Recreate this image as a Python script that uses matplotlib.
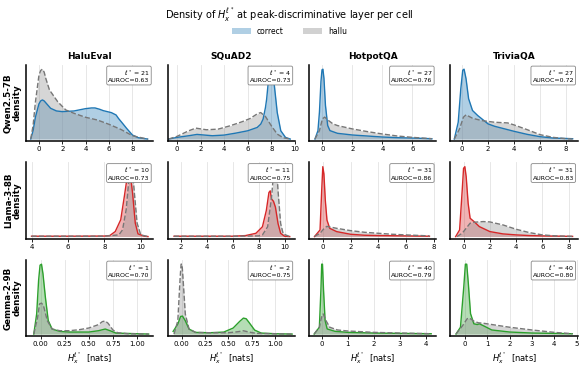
import matplotlib
matplotlib.use("Agg")
import matplotlib.pyplot as plt
from matplotlib.patches import Patch

# rows / columns
models = ["Qwen2.5-7B", "Llama-3-8B", "Gemma-2-9B"]
datasets = ["HaluEval", "SQuAD2", "HotpotQA", "TriviaQA"]
model_colors = ["#1f77b4", "#d62728", "#2ca02c"]

# peak layer and AUROC per cell (row = model)
best_layer = [[21, 4, 27, 27], [10, 11, 31, 31], [1, 2, 40, 40]]
auroc = [[0.63, 0.73, 0.76, 0.72], [0.73, 0.75, 0.86, 0.83], [0.70, 0.75, 0.79, 0.80]]

# x ticks / limits per cell
xticks = [
    [[0, 2, 4, 6, 8], [0, 2, 4, 6, 8, 10], [0, 2, 4, 6], [0, 2, 4, 6, 8]],
    [[4, 6, 8, 10], [2, 4, 6, 8, 10], [0, 2, 4, 6, 8], [0, 2, 4, 6, 8]],
    [[0, 0.25, 0.5, 0.75, 1.0], [0, 0.25, 0.5, 0.75, 1.0], [0, 1, 2, 3, 4], [0, 1, 2, 3, 4, 5]],
]
xlims = [
    [(-1.1, 9.8), (-0.8, 10.0), (-0.9, 7.6), (-0.9, 8.9)],
    [(3.7, 10.7), (1.0, 10.8), (-1.0, 8.2), (-1.0, 8.7)],
    [(-0.15, 1.17), (-0.15, 1.21), (-0.5, 4.4), (-0.65, 5.05)],
]

# density curves (x, density in arbitrary units)
qwen_correct = {
    "HaluEval": ([-0.7, -0.5, -0.3, 0, 0.15, 0.3, 0.45, 0.6, 1, 1.5, 2, 3, 4, 4.5, 4.8, 5.2, 5.5, 6.2, 6.6, 6.8, 7.2, 7.5, 8, 8.5, 9.3],
                 [0, 25, 65, 105, 114, 117, 114, 108, 92, 84, 82, 84, 91, 93, 93, 89, 85, 79, 72, 62, 45, 32, 12, 4, 0]),
    "SQuAD2": ([-0.7, 0, 1, 1.7, 3, 4, 5, 6, 6.8, 7.1, 7.3, 7.5, 7.6, 7.75, 7.85, 7.95, 8.05, 8.2, 8.35, 8.5, 8.8, 9.2, 9.6],
               [0, 5, 10, 14, 10, 12, 18, 25, 35, 45, 60, 95, 120, 175, 200, 211, 208, 180, 130, 80, 25, 5, 0]),
    "HotpotQA": ([-0.5, -0.3, -0.2, -0.1, -0.03, 0.03, 0.1, 0.2, 0.35, 0.5, 1, 2, 3, 4, 5, 6, 7.3],
                 [0, 25, 80, 170, 205, 207, 180, 100, 40, 25, 17, 12, 9, 6, 4, 3, 1]),
    "TriviaQA": ([-0.6, -0.3, -0.1, 0.05, 0.15, 0.3, 0.5, 0.8, 1.2, 2, 2.5, 3, 4, 5, 6, 7, 8.5],
                 [0, 50, 150, 205, 208, 180, 120, 85, 70, 45, 38, 33, 23, 14, 7, 3, 1]),
}
qwen_hallu = {
    "HaluEval": ([-0.7, -0.5, -0.3, 0, 0.15, 0.3, 0.45, 0.6, 0.9, 1.6, 2.3, 3, 4, 5, 6, 7, 8, 9, 9.3],
                 [0, 40, 110, 190, 205, 209, 200, 180, 147, 112, 87, 77, 65, 57, 44, 29, 10, 2, 0]),
    "SQuAD2": ([-0.7, 0, 1, 1.6, 2.5, 3.5, 4.5, 5.5, 6.2, 6.8, 7.1, 7.5, 8, 8.5, 9, 9.6],
               [0, 8, 25, 33, 28, 30, 40, 52, 62, 76, 80, 68, 40, 15, 4, 0]),
    "HotpotQA": ([-0.5, -0.2, 0, 0.15, 0.4, 0.7, 1, 2, 3, 4, 5, 6, 7.3],
                 [0, 25, 60, 65, 55, 45, 40, 30, 22, 15, 9, 5, 1]),
    "TriviaQA": ([-0.6, -0.2, 0.1, 0.3, 0.8, 1.5, 2.5, 3.5, 4, 5, 6, 7, 8, 8.5],
                 [0, 30, 65, 72, 62, 55, 50, 48, 42, 28, 13, 5, 1, 0]),
}
llama_correct = {
    "HaluEval": ([4.0, 6, 8, 8.3, 8.6, 8.9, 9.1, 9.25, 9.35, 9.45, 9.55, 9.7, 9.85, 10.2, 10.4],
                 [1, 1, 1.5, 3, 15, 50, 120, 175, 185, 175, 130, 40, 8, 1, 0]),
    "SQuAD2": ([1.5, 4, 6, 7, 7.8, 8.3, 8.6, 8.8, 8.9, 9.0, 9.15, 9.3, 9.5, 9.7, 10, 10.4],
               [1, 1, 1, 3, 10, 30, 80, 135, 140, 115, 108, 90, 40, 10, 1, 0]),
    "HotpotQA": ([-0.6, -0.2, -0.08, 0.0, 0.08, 0.18, 0.3, 0.5, 1, 2, 3, 4, 6, 7.7],
                 [0, 20, 140, 212, 190, 110, 50, 25, 15, 7, 4, 3, 2, 1]),
    "TriviaQA": ([-0.6, -0.3, -0.1, 0.0, 0.1, 0.2, 0.35, 0.5, 0.8, 1.2, 2, 3, 4, 5, 6, 8.3],
                 [0, 20, 140, 205, 210, 180, 100, 55, 45, 30, 15, 8, 5, 3, 2, 0.5]),
}
llama_hallu = {
    "HaluEval": ([4.0, 6, 8, 8.8, 9.0, 9.2, 9.35, 9.45, 9.55, 9.65, 9.8, 10, 10.4],
                 [1, 1, 1, 5, 20, 80, 170, 208, 195, 130, 40, 5, 0]),
    "SQuAD2": ([1.5, 4, 6, 8, 8.3, 8.7, 9.0, 9.15, 9.3, 9.4, 9.5, 9.7, 9.9, 10.4],
               [1, 1, 1, 2, 5, 30, 120, 190, 214, 205, 140, 40, 8, 0]),
    "HotpotQA": ([-0.6, -0.2, 0.1, 0.3, 1, 2, 3, 4, 5, 6, 7.7],
                 [0, 10, 25, 31, 25, 18, 13, 10, 7, 5, 2]),
    "TriviaQA": ([-0.5, -0.1, 0.2, 0.5, 0.8, 1.5, 2, 3, 4, 5, 6, 7, 8.3],
                 [0, 10, 25, 40, 43, 45, 44, 35, 22, 12, 5, 2, 0.5]),
}
gemma_correct = {
    "HaluEval": ([-0.07, -0.04, -0.02, -0.005, 0.01, 0.025, 0.05, 0.08, 0.12, 0.2, 0.3, 0.5, 0.6, 0.67, 0.72, 0.78, 1.0, 1.12],
                 [0, 60, 160, 205, 208, 180, 110, 40, 15, 8, 6, 6, 10, 15, 10, 3, 1, 0]),
    "SQuAD2": ([-0.09, -0.04, -0.01, 0.01, 0.04, 0.08, 0.15, 0.3, 0.45, 0.55, 0.62, 0.66, 0.69, 0.72, 0.78, 0.85, 1.0, 1.18],
               [8, 30, 53, 54, 40, 15, 5, 4, 6, 18, 38, 48, 46, 35, 12, 3, 1, 0]),
    "HotpotQA": ([-0.3, -0.1, -0.04, -0.01, 0.02, 0.06, 0.12, 0.2, 0.5, 1, 2, 3, 4.2],
                 [0, 20, 130, 205, 205, 130, 40, 15, 8, 5, 3, 2, 1]),
    "TriviaQA": ([-0.4, -0.2, -0.05, 0.02, 0.08, 0.15, 0.25, 0.4, 0.55, 0.65, 0.9, 1.2, 2, 3, 4, 4.8],
                 [0, 20, 140, 205, 205, 150, 60, 30, 28, 30, 22, 12, 6, 3, 2, 1]),
}
gemma_hallu = {
    "HaluEval": ([-0.07, -0.03, -0.01, 0.01, 0.03, 0.07, 0.12, 0.2, 0.3, 0.4, 0.5, 0.6, 0.64, 0.67, 0.7, 0.75, 0.8, 0.9, 1.12],
                 [0, 50, 90, 92, 85, 40, 15, 10, 10, 13, 18, 28, 37, 39, 32, 12, 4, 1, 0]),
    "SQuAD2": ([-0.08, -0.04, -0.015, -0.005, 0.005, 0.015, 0.04, 0.08, 0.15, 0.3, 0.5, 0.6, 0.66, 0.72, 0.8, 1.18],
               [0, 40, 170, 210, 210, 170, 60, 15, 5, 4, 4, 7, 10, 6, 2, 0]),
    "HotpotQA": ([-0.3, -0.1, 0, 0.05, 0.15, 0.3, 0.6, 1, 2, 3, 4.2],
                 [0, 20, 55, 59, 40, 20, 12, 9, 5, 3, 1]),
    "TriviaQA": ([-0.4, -0.1, 0.1, 0.2, 0.4, 0.6, 0.8, 1.2, 2, 3, 4, 4.8],
                 [0, 25, 45, 47, 38, 33, 32, 28, 20, 12, 5, 1]),
}
correct_curves = [qwen_correct, llama_correct, gemma_correct]
hallu_curves = [qwen_hallu, llama_hallu, gemma_hallu]

fig, axes = plt.subplots(3, 4, figsize=(5.79, 3.65), dpi=100)
fig.subplots_adjust(left=0.045, right=0.998, top=0.822, bottom=0.079,
                    wspace=0.11, hspace=0.28)

for r, model in enumerate(models):
    col = model_colors[r]
    for c, ds in enumerate(datasets):
        ax = axes[r, c]
        hx, hy = hallu_curves[r][ds]
        cx, cy = correct_curves[r][ds]
        ax.fill_between(cx, cy, color=col, alpha=0.35, lw=0)
        ax.plot(cx, cy, color=col, lw=1.0, solid_joinstyle="round")
        ax.fill_between(hx, hy, color="#999999", alpha=0.4, lw=0)
        ax.plot(hx, hy, color="#777777", lw=1.0, ls="--", dash_joinstyle="round")

        top = max(max(cy), max(hy))
        ax.set_ylim(-0.03 * top, 1.06 * top)
        ax.set_xlim(*xlims[r][c])
        ticks = xticks[r][c]
        ax.set_xticks(ticks)
        if r == 2 and c < 2:
            ax.set_xticklabels(["%.2f" % t for t in ticks])
        ax.set_yticks([])
        ax.tick_params(axis="x", labelsize=5, length=2, width=0.6, pad=1.5)
        ax.grid(axis="x", color="#e3e3e3", lw=0.6)
        ax.set_axisbelow(True)
        for s in ["top", "right"]:
            ax.spines[s].set_visible(False)
        for s in ["left", "bottom"]:
            ax.spines[s].set_linewidth(1.1)

        ax.text(0.97, 0.95, "$\\ell^*$ = %d\nAUROC=%.2f" % (best_layer[r][c], auroc[r][c]),
                transform=ax.transAxes, ha="right", va="top", fontsize=4.5,
                linespacing=1.1,
                bbox=dict(boxstyle="round,pad=0.25", fc="white", ec="#888888", lw=0.6))

        if r == 0:
            ax.set_title(ds, fontsize=6.5, fontweight="bold", pad=4)
        if c == 0:
            ax.set_ylabel(model + "\ndensity", fontsize=6.3, fontweight="bold",
                          labelpad=3, linespacing=1.0)
        if r == 2:
            ax.set_xlabel("$H_x^{\\ell^*}$  [nats]", fontsize=6, labelpad=2)

fig.suptitle("Density of $H_x^{\\ell^*}$ at peak-discriminative layer per cell",
             fontsize=7, y=0.985)
handles = [Patch(facecolor="#1f77b4", alpha=0.35, label="correct"),
           Patch(facecolor="#999999", alpha=0.45, label="hallu")]
fig.legend(handles=handles, loc="upper center", bbox_to_anchor=(0.5, 0.945),
           ncol=2, frameon=False, fontsize=5.5, handlelength=2.5,
           handleheight=0.8, columnspacing=2.5)

fig.savefig("out.png", dpi=100)
